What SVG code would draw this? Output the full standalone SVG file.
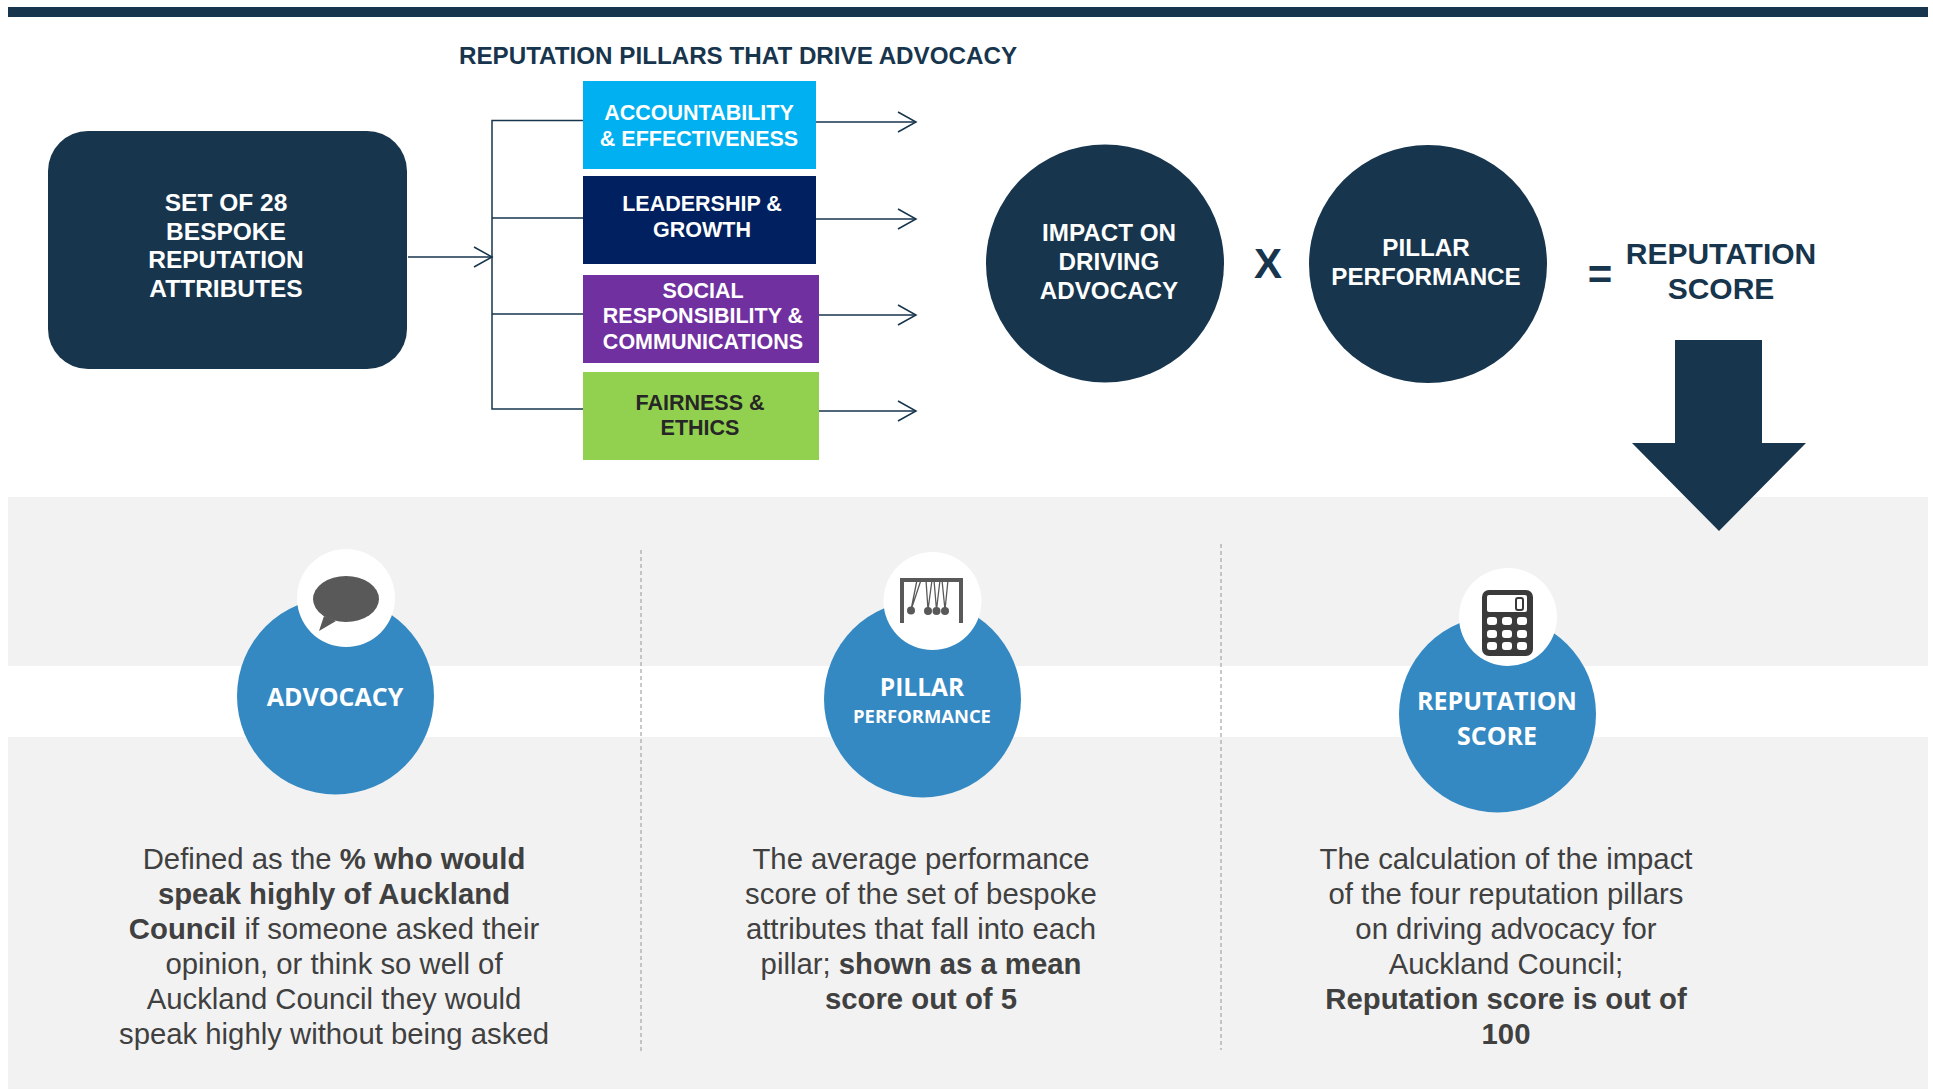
<svg xmlns="http://www.w3.org/2000/svg" width="1933" height="1090" viewBox="0 0 1933 1090">
<style>
text{font-family:"Liberation Sans",Arial,sans-serif;text-anchor:middle}
.b{font-weight:700}
.w{fill:#fff}
.n{fill:#17354d}
.p{font-size:21.500px;font-weight:700}
.h{font-size:24.200px;font-weight:700}
.o{font-family:"Open Sans","Noto Sans",sans-serif;font-weight:700;fill:#fff}
.t{font-size:29.300px;fill:#404040}
.c{fill:none;stroke:#17354d;stroke-width:1.5}
.d{stroke:#a6a6a6;stroke-width:1.2;stroke-dasharray:4 3;fill:none}
.blue{fill:#3489c3}
</style>
<defs>
<marker id="ah" markerUnits="userSpaceOnUse" markerWidth="22" markerHeight="26" refX="19" refY="12" orient="auto"><path d="M1 2L19 12L1 22" fill="none" stroke="#17354d" stroke-width="1.5"/></marker>
</defs>
<rect width="1933" height="1090" fill="#fff"/>
<rect x="8" y="7" width="1920" height="10" fill="#17354d"/>
<g id="background">
<rect x="8" y="497" width="1920" height="169" fill="#f2f2f2"/>
<rect x="8" y="737" width="1920" height="352" fill="#f2f2f2"/>
<path class="d" d="M641 550V1054"/>
<path class="d" d="M1221 544V1050"/>
</g>
<text class="b n" x="738" y="64" font-size="24.200">REPUTATION PILLARS THAT DRIVE ADVOCACY</text>
<g id="connectors">
<path class="c" d="M408 257H492" marker-end="url(#ah)"/>
<path class="c" d="M583 120.500H492V409H583M492 218H583M492 314H583"/>
<path class="c" d="M816 122H916" marker-end="url(#ah)"/>
<path class="c" d="M816 219H916" marker-end="url(#ah)"/>
<path class="c" d="M819 315H916" marker-end="url(#ah)"/>
<path class="c" d="M819 411H916" marker-end="url(#ah)"/>
</g>
<g id="attributes"><rect x="48" y="131" width="359" height="238" rx="40" class="n"/>
<text class="h w" style="font-size:24.500px"><tspan x="226" y="211">SET OF 28</tspan><tspan x="226" y="240">BESPOKE</tspan><tspan x="226" y="268">REPUTATION</tspan><tspan x="226" y="297">ATTRIBUTES</tspan></text></g>
<g id="pillar-accountability"><rect x="583" y="81" width="233" height="88" fill="#00b0f0"/>
<text class="p w"><tspan x="699" y="120">ACCOUNTABILITY</tspan><tspan x="699" y="146">&amp; EFFECTIVENESS</tspan></text></g>
<g id="pillar-leadership"><rect x="583" y="176" width="233" height="88" fill="#002060"/>
<text class="p w"><tspan x="702" y="211">LEADERSHIP &amp;</tspan><tspan x="702" y="237">GROWTH</tspan></text></g>
<g id="pillar-social"><rect x="583" y="275" width="236" height="88" fill="#7030a0"/>
<text class="p w"><tspan x="703" y="298">SOCIAL</tspan><tspan x="703" y="323">RESPONSIBILITY &amp;</tspan><tspan x="703" y="349">COMMUNICATIONS</tspan></text></g>
<g id="pillar-fairness"><rect x="583" y="372" width="236" height="88" fill="#92d050"/>
<text class="p" fill="#262626"><tspan x="700" y="410">FAIRNESS &amp;</tspan><tspan x="700" y="435">ETHICS</tspan></text></g>
<g id="impact"><circle cx="1105" cy="263.500" r="119" class="n"/>
<text class="h w"><tspan x="1109" y="241">IMPACT ON</tspan><tspan x="1109" y="270">DRIVING</tspan><tspan x="1109" y="299">ADVOCACY</tspan></text></g>
<text class="b n" x="1268" y="278" font-size="42">X</text>
<g id="performance"><circle cx="1428" cy="264" r="119" class="n"/>
<text class="h w"><tspan x="1426" y="256">PILLAR</tspan><tspan x="1426" y="285">PERFORMANCE</tspan></text></g>
<text class="b n" x="1600" y="289" font-size="42">=</text>
<text class="b n" font-size="30"><tspan x="1721" y="264">REPUTATION</tspan><tspan x="1721" y="299">SCORE</tspan></text>
<path class="n" d="M1675 340H1762V443H1806L1719 531L1632 443H1675Z"/>
<g id="advocacy"><circle cx="335.500" cy="696" r="98.500" class="blue"/><circle cx="346" cy="598" r="49" fill="#fff"/>
<g fill="#595959"><ellipse cx="346" cy="599" rx="33" ry="23"/><path d="M324 616L319 631L336 621Z"/></g>
<text class="o" x="335" y="706" font-size="25">ADVOCACY</text></g>
<g id="pillar"><circle cx="922.500" cy="699" r="98.500" class="blue"/><circle cx="932.500" cy="601" r="49" fill="#fff"/>
<g><path d="M902 623V580H961V623" fill="none" stroke="#595959" stroke-width="4"/><path d="M921 580L911 610M917 580L911 610M926 580L928 610M932 580L928 610M934 580L936.500 610M940 580L936.500 610M948 580L945 610M942 580L945 610" stroke="#595959" stroke-width="1.300" fill="none"/>
<g fill="#595959"><circle cx="911" cy="610.500" r="4"/><circle cx="928" cy="611" r="4"/><circle cx="936.500" cy="611" r="4"/><circle cx="945" cy="611" r="4"/></g></g>
<text class="o" x="922" y="696" font-size="24.500">PILLAR</text><text class="o" x="922" y="723" font-size="18.400">PERFORMANCE</text></g>
<g id="score"><circle cx="1497.500" cy="714" r="98.500" class="blue"/><circle cx="1508" cy="617" r="49" fill="#fff"/>
<rect x="1482" y="590" width="51" height="66" rx="7" fill="#3a3a3a"/>
<rect x="1487" y="595" width="40" height="17" rx="2" fill="#fff"/>
<rect x="1516" y="598" width="7" height="12" rx="2" fill="#fff" stroke="#3a3a3a" stroke-width="2"/>
<g fill="#fff"><rect x="1487" y="617" width="10" height="8" rx="3"/><rect x="1502" y="617" width="10" height="8" rx="3"/><rect x="1517" y="617" width="10" height="8" rx="3"/><rect x="1487" y="630" width="10" height="8" rx="3"/><rect x="1502" y="630" width="10" height="8" rx="3"/><rect x="1517" y="630" width="10" height="8" rx="3"/><rect x="1487" y="642" width="10" height="8" rx="3"/><rect x="1502" y="642" width="10" height="8" rx="3"/><rect x="1517" y="642" width="10" height="8" rx="3"/></g>
<text class="o" x="1497" y="710" font-size="25">REPUTATION</text><text class="o" x="1497" y="745" font-size="25">SCORE</text></g>
<text class="t"><tspan x="334" y="869">Defined as the <tspan class="b">% who would</tspan></tspan><tspan x="334" y="904" class="b">speak highly of Auckland</tspan><tspan x="334" y="939"><tspan class="b">Council</tspan> if someone asked their</tspan><tspan x="334" y="974">opinion, or think so well of</tspan><tspan x="334" y="1009">Auckland Council they would</tspan><tspan x="334" y="1044">speak highly without being asked</tspan></text>
<text class="t"><tspan x="921" y="869">The average performance</tspan><tspan x="921" y="904">score of the set of bespoke</tspan><tspan x="921" y="939">attributes that fall into each</tspan><tspan x="921" y="974">pillar; <tspan class="b">shown as a mean</tspan></tspan><tspan x="921" y="1009" class="b">score out of 5</tspan></text>
<text class="t"><tspan x="1506" y="869">The calculation of the impact</tspan><tspan x="1506" y="904">of the four reputation pillars</tspan><tspan x="1506" y="939">on driving advocacy for</tspan><tspan x="1506" y="974">Auckland Council;</tspan><tspan x="1506" y="1009" class="b">Reputation score is out of</tspan><tspan x="1506" y="1044" class="b">100</tspan></text>
</svg>
